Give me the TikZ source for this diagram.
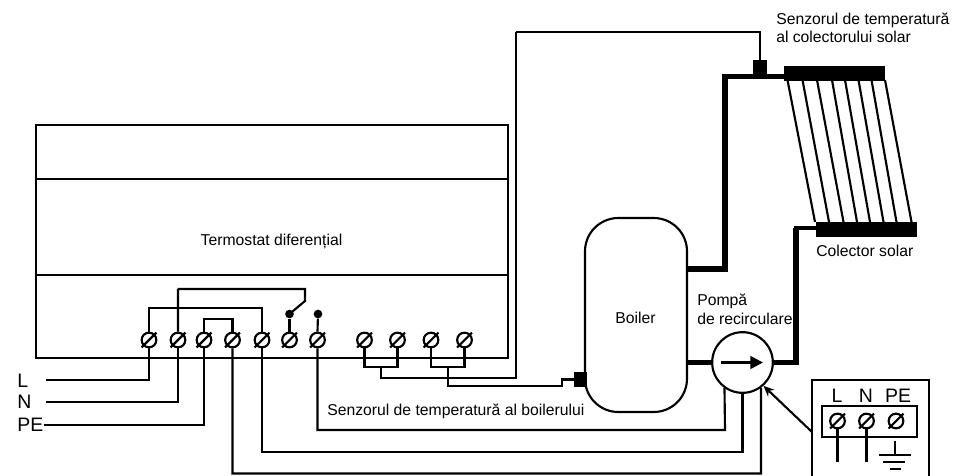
\documentclass[tikz,border=0pt]{standalone}
\usepackage{fontspec}
\setmainfont{Liberation Sans}
\usetikzlibrary{arrows.meta}
\tikzset{
  wire/.style={line width=1.6pt,line join=miter},
  term/.style={circle,draw,line width=1.6pt,fill=white,inner sep=0pt,minimum size=11pt,
    append after command={([xshift=-5.6pt,yshift=-5.6pt]\tikzlastnode.center) edge[draw,line width=1.6pt] ([xshift=5.6pt,yshift=5.6pt]\tikzlastnode.center)}},
  dot/.style={circle,fill=black,inner sep=0pt,minimum size=6.5pt},
  bar/.style={rectangle,fill=black,inner sep=0pt},
  pipe/.style={line width=4.2pt,line join=miter},
  pipethin/.style={line width=3pt,line join=miter},
  txt/.style={font=\fontsize{11.8}{14}\selectfont,inner sep=0pt,anchor=west,align=left},
  big/.style={font=\fontsize{14.6}{16}\selectfont,inner sep=0pt},
}
\begin{document}
\begin{tikzpicture}[x=0.75pt,y=-0.75pt]
\useasboundingbox (0,0) rectangle (953,475);
% controller box
\node[draw,wire,rectangle,minimum width=354pt,minimum height=174.75pt,inner sep=0pt,anchor=north west] (ctrl) at (35,124) {};
\coordinate (d1a) at (35,179); \coordinate (d1b) at (507,179);
\coordinate (d2a) at (35,275); \coordinate (d2b) at (507,275);
\draw[wire] (d1a) -- (d1b);
\draw[wire] (d2a) -- (d2b);
\node[txt,anchor=center] (ttext) at (271.5,241) {Termostat diferențial};
% terminals
\node[term] (t1) at (149,340) {};
\node[term] (t2) at (178,340) {};
\node[term] (t3) at (204,340) {};
\node[term] (t4) at (232.5,340) {};
\node[term] (t5) at (262,340) {};
\node[term] (t6) at (289.5,340) {};
\node[term] (t7) at (317.5,340) {};
\node[term] (s1) at (364.5,340) {};
\node[term] (s2) at (397.5,340) {};
\node[term] (s3) at (431,340) {};
\node[term] (s4) at (464.5,340) {};
\node[dot] (c1) at (289.5,314) {};
\node[dot] (c2) at (318,314) {};
% mains
\node[big,anchor=west] (lL) at (17,381) {L};
\node[big,anchor=west] (lN) at (17,402) {N};
\node[big,anchor=west] (lPE) at (17,425) {PE};
\coordinate (wL) at (46,380); \coordinate (wN) at (46,402);
\draw[wire] (wL) -| (t1.south);
\draw[wire] (wN) -| (t2.south);
\draw[wire] (lPE.east) -| (t3.south);
% bridges
\coordinate (b1) at (149,308);
\coordinate (b2) at (177.5,289);
\coordinate (b3) at (204,319);
\coordinate (sw1) at (305,289);
\coordinate (sw2) at (305,301);
\draw[wire] (t1.north) |- (b1) -| (t5.north);
\draw[wire] (t3.north) |- (b3) -| (t4.north);
\draw[wire] (t2.north) |- (b2) -- (sw1) -- (sw2) -- (c1.center);
\draw[wire] (c1) -- (t6.north);
\draw[wire] (c2) -- (t7.north);
% boiler
\node[draw,wire,rectangle,rounded corners=25pt,minimum width=76.5pt,minimum height=145.5pt,inner sep=0pt,fill=white] (boiler) at (636,315) {};
\node[txt,anchor=center] (btext) at (635.5,318) {Boiler};
% boiler sensor
\node[bar,minimum width=9.5pt,minimum height=11pt] (sb) at (580.5,379.5) {};
% pump
\node[circle,draw,wire,fill=white,minimum size=45.5pt,inner sep=0pt] (pump) at (742.5,362.5) {};
\coordinate (ara) at (721,362.5); \coordinate (arb) at (763,362.5);
\draw[line width=2pt,-{Triangle[width=9.5pt,length=9.5pt]}] (ara) -- (arb);
% sensor wires
\coordinate (ja) at (381,367);
\coordinate (jb) at (448,367);
\coordinate (jc) at (381,378);
\coordinate (jd) at (448,386);
\coordinate (je) at (516,378);
\coordinate (jf) at (516,32);
\coordinate (jg) at (562,386);
\coordinate (jh) at (562,379.5);
\draw[wire] (s1.south) |- (ja) -| (s2.south);
\draw[wire] (s3.south) |- (jb) -| (s4.south);
\draw[wire] (ja) -- (jc) -- (je) -- (jf);
\draw[wire] (jb) -- (jd) -- (jg) -- (jh) -- (sb.west);
% pump wires
\coordinate (w7) at (725,430);
\coordinate (w5) at (742.5,452);
\coordinate (w4) at (761,473.5);
\draw[wire] (t7.south) |- (w7) -- (pump.235);
\draw[wire] (t5.south) |- (w5) -- (pump.south);
\draw[wire] (t4.south) |- (w4) -- (pump.306);
% collector
\node[bar,minimum width=75.75pt,minimum height=11pt,anchor=north west] (ctop) at (784,66) {};
\node[bar,minimum width=75.75pt,minimum height=10.75pt,anchor=north west] (cbot) at (816,222) {};
\foreach \i/\a/\b in {0/787.5/815,1/802.5/829,2/817/843.5,3/832/857,4/845/870,5/858.5/883.5,6/871.5/896.5,7/885/911.5}{
  \coordinate (ta\i) at (\a,80); \coordinate (tb\i) at (\b,222);
  \draw[wire] (ta\i) -- (tb\i);
}
% collector sensor
\node[bar,minimum width=10.5pt,minimum height=13pt,anchor=north] (sc) at (759.7,60) {};
\draw[wire] (jf) -| (sc.north);
% pipes
\coordinate (p1) at (725,76.5);
\coordinate (p2) at (725,269);
\coordinate (p3) at (687,269);
\coordinate (p4) at (687,362.5);
\coordinate (p5) at (796,362.5);
\coordinate (p6) at (796,228);
\draw[pipe] (ctop.west |- p1) -- (p1) -- (p2) -- (p3);
\draw[pipe] (p4) -- (pump.west);
\draw[pipe] (pump.east) -- (p5) -- (p6);
\draw[pipethin] (794,228) -- (cbot.west |- p6);
% connection box
\coordinate (ba) at (812,476); \coordinate (bb) at (812,380); \coordinate (bc) at (929,380); \coordinate (bd) at (929,476);
\draw[wire] (ba) -- (bb) -- (bc) -- (bd);
\node[draw,wire,rectangle,minimum width=71.5pt,minimum height=23pt,inner sep=0pt] (inner) at (869.5,421.5) {};
\node[term] (k1) at (837.5,421) {};
\node[term] (k2) at (866.5,421) {};
\node[term] (k3) at (896,421) {};
\node[big,anchor=center] (kL) at (837,395.5) {L};
\node[big,anchor=center] (kN) at (866,395.5) {N};
\node[big,anchor=center] (kPE) at (898,395.5) {PE};
\coordinate (k1e) at (837.5,462); \coordinate (k2e) at (866.5,462);
\draw[wire] (k1.south) -- (k1e);
\draw[wire] (k2.south) -- (k2e);
\coordinate (g0) at (895,441); \coordinate (g1) at (895,455);
\coordinate (g1a) at (879,455); \coordinate (g1b) at (911,455);
\coordinate (g2a) at (883,462); \coordinate (g2b) at (905,462);
\coordinate (g3a) at (890,469); \coordinate (g3b) at (901,469);
\draw[wire] (g0) -- (g1);
\draw[wire] (g1a) -- (g1b);
\draw[wire] (g2a) -- (g2b);
\draw[wire] (g3a) -- (g3b);
\coordinate (arr) at (812,432);
\draw[wire,-{Stealth[length=8pt,width=7pt]}] (arr) -- (pump.312);
% labels
\node[txt] (l1) at (327,411) {Senzorul de temperatură al boilerului};
\node[txt] (l2) at (697,301) {Pompă};
\node[txt] (l3) at (697,319) {de recirculare};
\node[txt] (l4) at (816,251) {Colector solar};
\node[txt] (l5) at (776,20) {Senzorul de temperatură};
\node[txt] (l6) at (776,37) {al colectorului solar};
\end{tikzpicture}
\end{document}
